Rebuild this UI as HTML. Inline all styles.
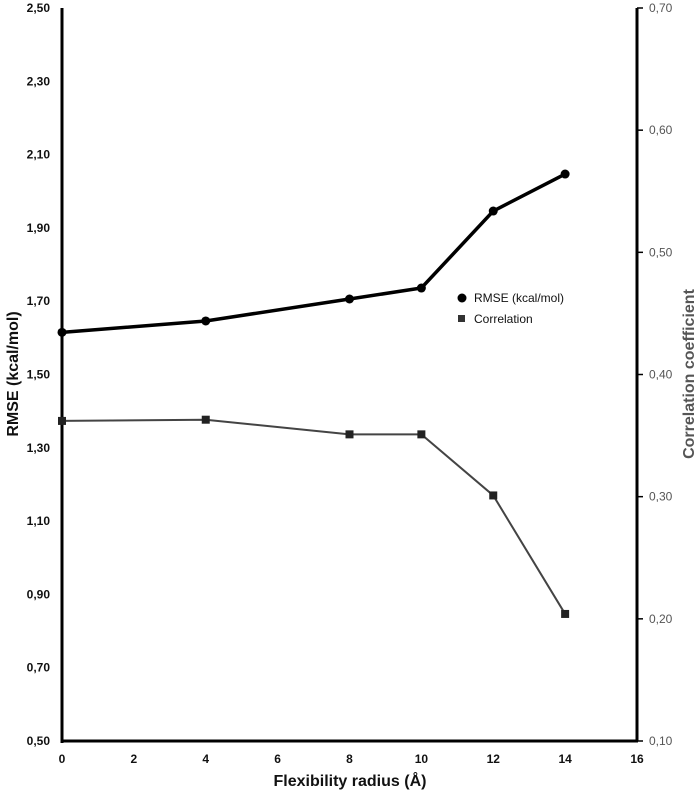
<!DOCTYPE html>
<html><head><meta charset="utf-8"><style>
body{margin:0;background:#fff}
svg text{font-family:"Liberation Sans",sans-serif}
</style></head><body>
<svg id="chart" width="700" height="792" xmlns="http://www.w3.org/2000/svg"></svg>
<script>
const xValues=[0,4,8,10,12,14];
const rmseValues=[1.615,1.646,1.706,1.736,1.946,2.047];
const corrValues=[0.362,0.363,0.351,0.351,0.301,0.204];
const xTicks=[0,2,4,6,8,10,12,14,16];
const leftTicks=[0.5,0.7,0.9,1.1,1.3,1.5,1.7,1.9,2.1,2.3,2.5];
const rightTicks=[0.1,0.2,0.3,0.4,0.5,0.6,0.7];
const svg=document.getElementById('chart');
const NS='http://www.w3.org/2000/svg';
const X0=62,X1=637,Y0=741,Y1=8;
const xs=v=>X0+(v-0)/16*(X1-X0);
const yl=v=>Y0-(v-0.5)/2.0*(Y0-Y1);
const yr=v=>Y0-(v-0.1)/0.6*(Y0-Y1);
function mk(t,a,txt){const e=document.createElementNS(NS,t);for(const k in a)e.setAttribute(k,a[k]);if(txt!==undefined)e.textContent=txt;svg.appendChild(e);return e;}
const fmt=v=>v.toFixed(2).replace('.',',');
// axes
let e=mk('line',{x1:X0,y1:Y1,x2:X0,y2:Y0+2,stroke:'#000','stroke-width':3});


e=mk('line',{x1:X0-1,y1:Y0,x2:X1+1,y2:Y0,stroke:'#000','stroke-width':3});


e=mk('line',{x1:X1,y1:Y1,x2:X1,y2:Y0,stroke:'#000','stroke-width':3});


leftTicks.forEach(v=>{
  e=mk('text',{x:X0-12,y:yl(v)+4,'text-anchor':'end','font-size':12,'font-weight':'bold',fill:'#111'},fmt(v));
  
  
});
rightTicks.forEach(v=>{
  e=mk('line',{x1:X1,y1:yr(v),x2:X1+6,y2:yr(v),stroke:'#000','stroke-width':1.5});
  
  
  e=mk('text',{x:X1+12,y:yr(v)+4,'font-size':12,fill:'#555'},fmt(v));
  
  
});
xTicks.forEach(v=>{
  e=mk('text',{x:xs(v),y:763,'text-anchor':'middle','font-size':12,'font-weight':'bold',fill:'#111'},String(v));
  
  
});
e=mk('text',{x:350,y:786,'text-anchor':'middle','font-size':16,'font-weight':'bold',fill:'#111'},'Flexibility radius (Å)');


e=mk('text',{x:0,y:0,'text-anchor':'middle','font-size':16,'font-weight':'bold',fill:'#111',transform:'translate(18,374) rotate(-90)'},'RMSE (kcal/mol)');


e=mk('text',{x:0,y:0,'text-anchor':'middle','font-size':16,'font-weight':'bold',fill:'#555',transform:'translate(694,374) rotate(-90)'},'Correlation coefficient');


// series
e=mk('polyline',{points:xValues.map((x,i)=>xs(x)+','+yr(corrValues[i])).join(' '),fill:'none',stroke:'#444','stroke-width':2});


xValues.forEach((x,i)=>{
  e=mk('rect',{x:xs(x)-4,y:yr(corrValues[i])-4,width:8,height:8,fill:'#222'});
  
  
});
e=mk('polyline',{points:xValues.map((x,i)=>xs(x)+','+yl(rmseValues[i])).join(' '),fill:'none',stroke:'#000','stroke-width':3.5});


xValues.forEach((x,i)=>{
  e=mk('circle',{cx:xs(x),cy:yl(rmseValues[i]),r:4.5,fill:'#000'});
  
  
});
// legend
e=mk('circle',{cx:462,cy:298,r:4.5,fill:'#000'});


e=mk('text',{x:474,y:302,'font-size':12,fill:'#111'},'RMSE (kcal/mol)');


e=mk('rect',{x:458,y:315,width:7,height:7,fill:'#333'});


e=mk('text',{x:474,y:323,'font-size':12,fill:'#111'},'Correlation');


</script>
</body></html>
